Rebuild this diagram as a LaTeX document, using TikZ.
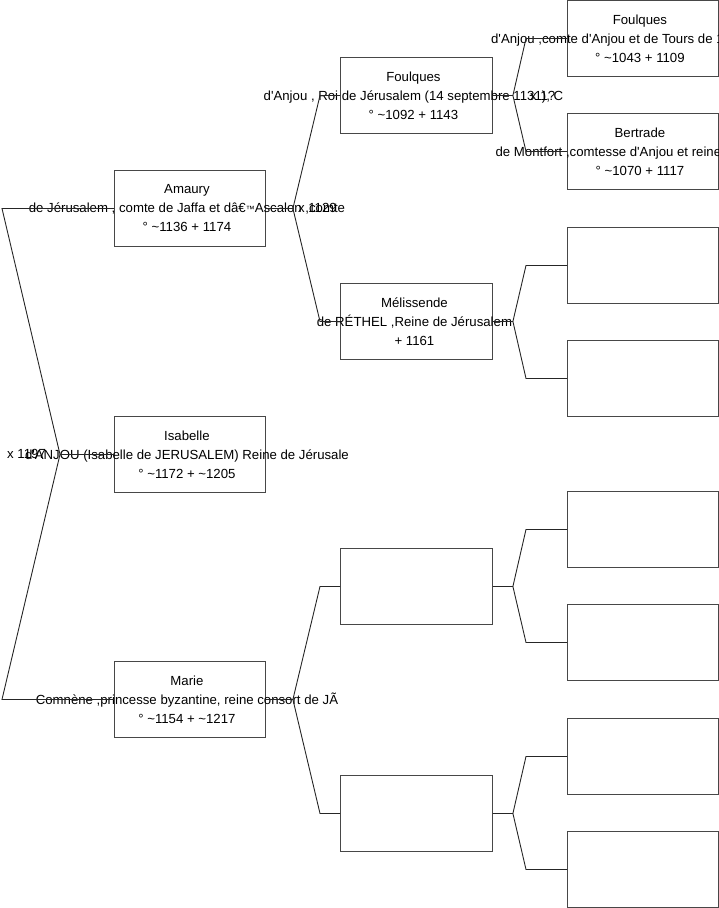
\documentclass[tikz,border=0pt]{standalone}
\usepackage{fontspec}
\setmainfont{Liberation Sans}[Ligatures=TeXOff]
\usetikzlibrary{calc}
\begin{document}
\begin{tikzpicture}[x=1pt,y=-1pt,
  box/.style={draw=black!72, line width=0.9pt, minimum width=151pt, minimum height=76pt, inner sep=0pt, anchor=north west},
  txt/.style={align=center, font=\fontsize{13.2}{19}\selectfont, inner sep=0pt},
  conn/.style={draw=black!85, line width=0.9pt},
  mar/.style={font=\fontsize{13.2}{15}\selectfont, inner sep=0pt, anchor=west}]
\useasboundingbox (0,0) rectangle (719,908);
\clip (0,0) rectangle (719,908);
% generation 1
\node[box] (isabelle) at (114,416) {};
% generation 2
\node[box] (amaury) at (114,170) {};
\node[box] (marie) at (114,661) {};
% generation 3
\node[box, minimum width=152pt] (foulquesA) at (340,57) {};
\node[box, minimum width=152pt] (melissende) at (340,283) {};
\node[box, minimum width=152pt] (e2a) at (340,548) {};
\node[box, minimum width=152pt] (e2b) at (340,775) {};
% generation 4
\node[box] (foulquesB) at (567,0) {};
\node[box] (bertrade) at (567,113) {};
\node[box] (e3a) at (567,227) {};
\node[box] (e3b) at (567,340) {};
\node[box] (e3c) at (567,491) {};
\node[box] (e3d) at (567,604) {};
\node[box] (e3e) at (567,718) {};
\node[box] (e3f) at (567,831) {};

% texts
\node[txt] (tIsabelle) at ($(isabelle.center)+(-3,0)$) {Isabelle\\d'ANJOU (Isabelle de JERUSALEM) Reine de Jérusale\\° \textasciitilde1172 + \textasciitilde1205};
\node[txt] (tAmaury) at ($(amaury.center)+(-3,0)$) {Amaury\\de Jérusalem , comte de Jaffa et dâ€{\fontsize{9}{9}\selectfont ™}Ascalon ,comte\\° \textasciitilde1136 + 1174};
\node[txt] (tMarie) at ($(marie.center)+(-3,0)$) {Marie\\Comnène ,princesse byzantine, reine consort de JÃ\\° \textasciitilde1154 + \textasciitilde1217};
\node[txt] (tFoulquesA) at ($(foulquesA.center)+(-3,0)$) {Foulques\\d'Anjou , Roi de Jérusalem (14 septembre 1131), C\\° \textasciitilde1092 + 1143};
\node[txt] (tMelissende) at ($(melissende.center)+(-2,0)$) {Mélissende\\de RÉTHEL ,Reine de Jérusalem\\+ 1161};
\node[txt] (tFoulquesB) at ($(foulquesB.center)+(-3,0)$) {Foulques\\d'Anjou ,comte d'Anjou et de Tours de 1068 à 1109\\° \textasciitilde1043 + 1109};
\node[txt] (tBertrade) at ($(bertrade.center)+(-3,0)$) {Bertrade\\de Montfort ,comtesse d'Anjou et reine de France\\° \textasciitilde1070 + 1117};

% connectors generation 1 -> 2
\coordinate (r0) at ($(isabelle.west)+(-54,0)$);
\coordinate (r1) at ($(amaury.west)+(-112,0)$);
\coordinate (r2) at ($(marie.west)+(-112,0)$);
\draw[conn] (isabelle.west) -- (r0) -- (r1) -- (amaury.west);
\draw[conn] (r0) -- (r2) -- (marie.west);
\node[mar] (m0) at ($(r1|-r0)+(5,-1)$) {x 1197};

% generation 2 -> 3
\coordinate (a0) at ($(amaury.east)+(27,0)$);
\coordinate (a1) at ($(foulquesA.west)+(-20,0)$);
\coordinate (a2) at ($(melissende.west)+(-20,0)$);
\draw[conn] (amaury.east) -- (a0) -- (a1) -- (foulquesA.west);
\draw[conn] (a0) -- (a2) -- (melissende.west);
\node[mar] (m1) at ($(a0)+(5,0)$) {x 1129};

\coordinate (b0) at ($(marie.east)+(27,0)$);
\coordinate (b1) at ($(e2a.west)+(-20,0)$);
\coordinate (b2) at ($(e2b.west)+(-20,0)$);
\draw[conn] (marie.east) -- (b0) -- (b1) -- (e2a.west);
\draw[conn] (b0) -- (b2) -- (e2b.west);

% generation 3 -> 4
\coordinate (c0) at ($(foulquesA.east)+(20,0)$);
\coordinate (c1) at ($(foulquesB.west)+(-41,0)$);
\coordinate (c2) at ($(bertrade.west)+(-41,0)$);
\draw[conn] (foulquesA.east) -- (c0) -- (c1) -- (foulquesB.west);
\draw[conn] (c0) -- (c2) -- (bertrade.west);
\node[mar] (m2) at ($(c1|-c0)+(4,0)$) {x 1?};

\coordinate (d0) at ($(melissende.east)+(20,0)$);
\coordinate (d1) at ($(e3a.west)+(-41,0)$);
\coordinate (d2) at ($(e3b.west)+(-41,0)$);
\draw[conn] (melissende.east) -- (d0) -- (d1) -- (e3a.west);
\draw[conn] (d0) -- (d2) -- (e3b.west);

\coordinate (g0) at ($(e2a.east)+(20,0)$);
\coordinate (g1) at ($(e3c.west)+(-41,0)$);
\coordinate (g2) at ($(e3d.west)+(-41,0)$);
\draw[conn] (e2a.east) -- (g0) -- (g1) -- (e3c.west);
\draw[conn] (g0) -- (g2) -- (e3d.west);

\coordinate (h0) at ($(e2b.east)+(20,0)$);
\coordinate (h1) at ($(e3e.west)+(-41,0)$);
\coordinate (h2) at ($(e3f.west)+(-41,0)$);
\draw[conn] (e2b.east) -- (h0) -- (h1) -- (e3e.west);
\draw[conn] (h0) -- (h2) -- (e3f.west);
\end{tikzpicture}
\end{document}
